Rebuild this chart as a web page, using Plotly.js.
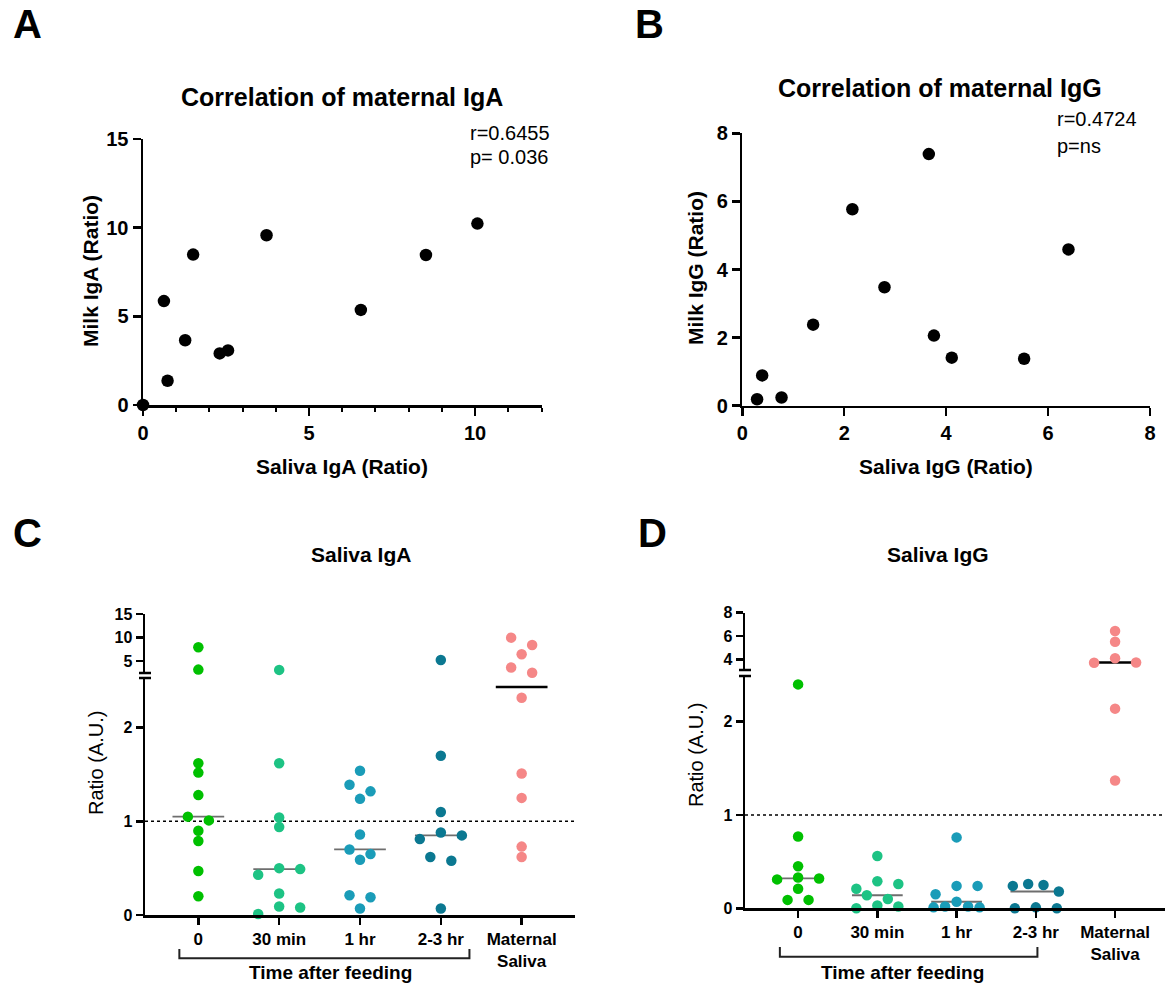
<!DOCTYPE html>
<html><head><meta charset="utf-8">
<script src="https://cdn.plot.ly/plotly-3.0.1.min.js"></script>
<style>html,body{margin:0;padding:0;background:#fff}#chart{width:1165px;height:984px}</style>
</head><body><div id="chart"></div>
<script>
// ---------------- data ----------------
// Panel A: correlation of maternal IgA
const salivaIgA = [0, 0.63, 0.74, 1.27, 1.51, 2.31, 2.56, 3.72, 6.56, 8.52, 10.07];
const milkIgA   = [0, 5.86, 1.37, 3.65, 8.48, 2.91, 3.08, 9.57, 5.36, 8.46, 10.23];
// Panel B: correlation of maternal IgG
const salivaIgG = [0.29, 0.39, 0.77, 1.39, 2.16, 2.79, 3.66, 3.76, 4.11, 5.53, 6.40];
const milkIgG   = [0.19, 0.89, 0.24, 2.38, 5.77, 3.48, 7.39, 2.06, 1.41, 1.38, 4.59];
// Groups for panels C and D
const groupLabels = ['0', '30 min', '1 hr', '2-3 hr', 'Maternal<br>Saliva'];
// Panel C: saliva IgA ratio
const igaT0  = [7.96, 3.22, 1.62, 1.52, 1.28, 1.05, 1.01, 0.90, 0.79, 0.47, 0.20];
const igaT30 = [3.16, 1.62, 1.04, 0.94, 0.50, 0.49, 0.43, 0.23, 0.09, 0.08, 0.01];
const igaT1h = [1.54, 1.39, 1.32, 1.24, 0.86, 0.70, 0.65, 0.59, 0.21, 0.19, 0.07];
const igaT23 = [5.27, 1.70, 1.10, 0.88, 0.85, 0.81, 0.62, 0.58, 0.07];
const igaMat = [9.99, 8.45, 6.48, 3.65, 2.55, 2.32, 1.51, 1.25, 0.73, 0.62];
// Panel D: saliva IgG ratio
const iggT0  = [2.40, 0.77, 0.45, 0.33, 0.32, 0.31, 0.21, 0.09, 0.09];
const iggT30 = [0.56, 0.29, 0.26, 0.21, 0.14, 0.10, 0.03, 0.02, 0.00];
const iggT1h = [0.76, 0.24, 0.24, 0.15, 0.07, 0.02, 0.01, 0.01, 0.02];
const iggT23 = [0.26, 0.25, 0.24, 0.18, 0.01, 0.00, 0.00];
const iggMat = [6.43, 5.51, 4.09, 3.72, 3.70, 2.14, 1.37];

// ---------------- styling / geometry ----------------
const W = 1165, H = 984;
const FONT = 'Arial, "Liberation Sans", Helvetica, sans-serif';
const groupColors = ['#00c000', '#1dc384', '#1a9cb8', '#0b7891', '#f58787'];
const fx = p => p / W;
const fy = p => 1 - p / H;

const geoC = {xL:145, xR:575, xRange:[-0.66, 4.66], lowBot:915, lowTop:678, lowRange:[0, 2.53], upBot:673, upTop:614, upRange:[2.5, 15]};
const geoD = {xL:745, xR:1165, xRange:[-0.67, 4.63], lowBot:908.3, lowTop:676, lowRange:[0, 2.49], upBot:670, upTop:612.7, upRange:[3.08, 8]};

const DIAM = 9.0, COLW = 21, HALFMAX = 23;

function median(a){
  const s = [...a].sort((p,q)=>p-q); const n = s.length;
  return n % 2 ? s[(n-1)/2] : (s[n/2-1] + s[n/2]) / 2;
}

// simple beeswarm: rows of overlapping points spread symmetrically
function swarm(values, geo){
  const pxX = (geo.xR - geo.xL) / (geo.xRange[1] - geo.xRange[0]);
  const lowK = (geo.lowBot - geo.lowTop) / (geo.lowRange[1] - geo.lowRange[0]);
  const upK = (geo.upBot - geo.upTop) / (geo.upRange[1] - geo.upRange[0]);
  const pts = values.map(v => {
    const up = v > geo.lowRange[1];
    const pix = up ? geo.upBot - (v - geo.upRange[0]) * upK : geo.lowBot - (v - geo.lowRange[0]) * lowK;
    return {v, up, pix};
  }).sort((a,b) => a.pix - b.pix);
  const rows = [];
  pts.forEach(p => {
    const r = rows[rows.length-1];
    if (r && p.pix - r[0].pix < DIAM) r.push(p); else rows.push([p]);
  });
  rows.forEach(r => {
    const n = r.length;
    const w = n > 1 ? Math.min(COLW, 2*HALFMAX/(n-1)) : 0;
    const slots = [];
    if (n % 2 === 1) { slots.push(0); for (let k=1; slots.length<n; k++){ slots.push(k); slots.push(-k);} }
    else { for (let k=0; slots.length<n; k++){ slots.push(-(k+0.5)); slots.push(k+0.5);} }
    r.forEach((p,i) => p.off = slots[i]*w/pxX);
  });
  return pts;
}

const traces = [];
const shapes = [];
const annotations = [];

traces.push({type:'scatter', mode:'markers', x:salivaIgA, y:milkIgA, xaxis:'x', yaxis:'y',
  marker:{color:'black', size:12.5}, cliponaxis:false, showlegend:false});
traces.push({type:'scatter', mode:'markers', x:salivaIgG, y:milkIgG, xaxis:'x2', yaxis:'y2',
  marker:{color:'black', size:12.5}, cliponaxis:false, showlegend:false});

function addSwarm(groupsData, geo, xa, yaLow, yaUp){
  groupsData.forEach((vals, gi) => {
    const pts = swarm(vals, geo);
    [[pts.filter(p=>!p.up), yaLow], [pts.filter(p=>p.up), yaUp]].forEach(([arr, ya]) => {
      if (!arr.length) return;
      traces.push({type:'scatter', mode:'markers', x:arr.map(p=>gi+p.off), y:arr.map(p=>p.v),
        xaxis:xa, yaxis:ya, marker:{color:groupColors[gi], size:10.5}, cliponaxis:false, showlegend:false});
    });
    const med = median(vals);
    const isUp = med > geo.lowRange[1];
    shapes.push({type:'line', xref:xa, yref:isUp?yaUp:yaLow, x0:gi-0.32, x1:gi+0.32, y0:med, y1:med,
      line:{color: gi===4 ? 'black' : '#6e6e6e', width: gi===4 ? 2.5 : 1.8}, layer:'below'});
  });
}
addSwarm([igaT0, igaT30, igaT1h, igaT23, igaMat], geoC, 'x3', 'y3', 'y4');
addSwarm([iggT0, iggT30, iggT1h, iggT23, iggMat], geoD, 'x4', 'y5', 'y6');

// ---------------- axes ----------------
const base = {showgrid:false, zeroline:false, showline:true, linecolor:'black', linewidth:2.5,
  ticks:'outside', ticklen:8, tickwidth:2.5, tickcolor:'black', fixedrange:true,
  tickfont:{family:FONT, size:20, color:'black', weight:'bold'}};
const baseSmall = Object.assign({}, base, {ticklen:7, tickfont:{family:FONT, size:16, color:'black', weight:'bold'}});

const layout = {
  width:W, height:H, margin:{l:0, r:0, t:0, b:0}, paper_bgcolor:'white', plot_bgcolor:'rgba(0,0,0,0)',
  font:{family:FONT, color:'black'}, showlegend:false,
  xaxis: Object.assign({}, base, {domain:[fx(143), fx(541.5)], range:[0,12], anchor:'y', tickmode:'array', tickvals:[0,5,10],
    minor:{tickmode:'linear', tick0:0, dtick:1, ticks:'outside', ticklen:4, tickwidth:2, tickcolor:'black', showgrid:false}}),
  yaxis: Object.assign({}, base, {domain:[fy(405), fy(139)], range:[0,15], anchor:'x', tickmode:'array', tickvals:[0,5,10,15]}),
  xaxis2: Object.assign({}, base, {domain:[fx(742.3), fx(1150)], range:[0,8], anchor:'y2', tickmode:'array', tickvals:[0,2,4,6,8]}),
  yaxis2: Object.assign({}, base, {domain:[fy(405.7), fy(133.3)], range:[0,8], anchor:'x2', tickmode:'array', tickvals:[0,2,4,6,8]}),
  xaxis3: Object.assign({}, baseSmall, {domain:[fx(geoC.xL), fx(geoC.xR)], range:geoC.xRange, anchor:'y3', tickmode:'array',
    tickvals:[0,1,2,3,4], ticktext:groupLabels, tickfont:{family:FONT, size:17, color:'black', weight:'bold'}}),
  yaxis3: Object.assign({}, baseSmall, {domain:[fy(geoC.lowBot), fy(geoC.lowTop)], range:geoC.lowRange, anchor:'x3', tickmode:'array', tickvals:[0,1,2]}),
  yaxis4: Object.assign({}, baseSmall, {domain:[fy(geoC.upBot), fy(geoC.upTop)], range:geoC.upRange, anchor:'x3', tickmode:'array', tickvals:[5,10,15]}),
  xaxis4: Object.assign({}, baseSmall, {domain:[fx(geoD.xL), 1], range:geoD.xRange, anchor:'y5', tickmode:'array',
    tickvals:[0,1,2,3,4], ticktext:groupLabels, tickfont:{family:FONT, size:17, color:'black', weight:'bold'}}),
  yaxis5: Object.assign({}, baseSmall, {domain:[fy(geoD.lowBot), fy(geoD.lowTop)], range:geoD.lowRange, anchor:'x4', tickmode:'array', tickvals:[0,1,2]}),
  yaxis6: Object.assign({}, baseSmall, {domain:[fy(geoD.upBot), fy(geoD.upTop)], range:geoD.upRange, anchor:'x4', tickmode:'array', tickvals:[4,6,8]}),
  shapes: shapes,
  annotations: annotations
};

// axis break caps
[[geoC.xL, geoC.lowTop], [geoC.xL, geoC.upBot], [geoD.xL, geoD.lowTop], [geoD.xL, geoD.upBot]].forEach(([x, y]) => {
  shapes.push({type:'line', xref:'paper', yref:'paper', x0:fx(x-6), x1:fx(x+6), y0:fy(y), y1:fy(y), line:{color:'black', width:2.5}});
});
// reference line at ratio = 1
shapes.push({type:'line', xref:'x3 domain', yref:'y3', x0:0, x1:1, y0:1, y1:1, line:{color:'black', width:1.6, dash:'dot'}, layer:'below'});
shapes.push({type:'line', xref:'x4 domain', yref:'y5', x0:0, x1:1, y0:1, y1:1, line:{color:'black', width:1.6, dash:'dot'}, layer:'below'});
// "Time after feeding" brackets
function bracket(xa, a, b, yTop, yBot){
  shapes.push({type:'path', xref:xa, yref:'paper',
    path:`M ${a} ${fy(yTop)} L ${a} ${fy(yBot)} L ${b} ${fy(yBot)} L ${b} ${fy(yTop)}`,
    line:{color:'#222', width:2}});
}
bracket('x3', -0.235, 3.354, 949, 958.3);
bracket('x4', -0.23, 3.02, 947, 956.7);

function txt(text, x, y, size, bold, opts){
  annotations.push(Object.assign({text, x:fx(x), y:fy(y), xref:'paper', yref:'paper', showarrow:false,
    xanchor:'center', yanchor:'middle', font:{family:FONT, size, color:'black', weight: bold ? 'bold' : 'normal'}}, opts || {}));
}
txt('A', 27, 24, 40, true);
txt('B', 650, 24, 40, true);
txt('C', 27, 533, 40, true);
txt('D', 652, 533, 40, true);
txt('Correlation of maternal IgA', 342, 97, 25, true);
txt('Correlation of maternal IgG', 940, 88, 25, true);
txt('Saliva IgA (Ratio)', 342, 466, 21, true);
txt('Milk IgA (Ratio)', 90, 271, 21, true, {textangle:-90});
txt('Saliva IgG (Ratio)', 946, 466, 21, true);
txt('Milk IgG (Ratio)', 695, 268, 21, true, {textangle:-90});
txt('r=0.6455', 468, 133, 20, false, {xanchor:'left'});
txt('p= 0.036', 468, 157, 20, false, {xanchor:'left'});
txt('r=0.4724', 1055, 119, 20, false, {xanchor:'left'});
txt('p=ns', 1055, 146, 20, false, {xanchor:'left'});
txt('Saliva IgA', 361, 554, 21, true);
txt('Saliva IgG', 938, 554, 21, true);
txt('Ratio (A.U.)', 96, 763, 20, false, {textangle:-90});
txt('Ratio (A.U.)', 696, 755, 20, false, {textangle:-90});
txt('Time after feeding', 330, 972, 19, true);
txt('Time after feeding', 902, 972, 19, true);

Plotly.newPlot('chart', traces, layout, {staticPlot:true, displayModeBar:false});
</script>
</body></html>
